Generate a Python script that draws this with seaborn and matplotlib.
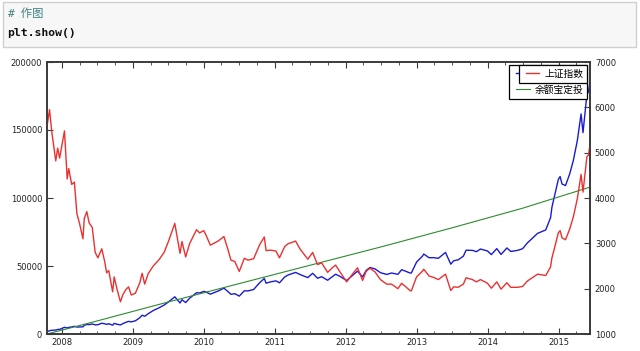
import pandas as pd
import matplotlib.pyplot as plt
import matplotlib.dates as mdates
from matplotlib.patches import Rectangle
from matplotlib.ticker import FuncFormatter
import seaborn as sns

plt.rcParams['font.family'] = ['DejaVu Sans', 'Noto Sans CJK SC']

# 日期（约半月一个点）
fechas = ['2007-10-16', '2007-10-29', '2007-11-10', '2007-11-30', '2007-12-10', '2007-12-20',
          '2008-01-14', '2008-01-28', '2008-02-05', '2008-02-20', '2008-03-05', '2008-03-18',
          '2008-03-31', '2008-04-18', '2008-04-25', '2008-05-08', '2008-05-20', '2008-06-05',
          '2008-06-20', '2008-07-04', '2008-07-24', '2008-08-08', '2008-08-18', '2008-08-29',
          '2008-09-18', '2008-09-26', '2008-10-10', '2008-10-28', '2008-11-10', '2008-11-25',
          '2008-12-09', '2008-12-23', '2009-01-13', '2009-02-04', '2009-02-17', '2009-03-02',
          '2009-03-20', '2009-04-15', '2009-05-15', '2009-06-10', '2009-07-03', '2009-07-28',
          '2009-08-04', '2009-08-31', '2009-09-10', '2009-09-29', '2009-10-20', '2009-11-24',
          '2009-12-10', '2009-12-31', '2010-01-12', '2010-02-03', '2010-03-15', '2010-04-14',
          '2010-05-05', '2010-05-20', '2010-06-09', '2010-07-02', '2010-07-28', '2010-08-16',
          '2010-09-14', '2010-10-15', '2010-11-08', '2010-11-17', '2010-12-10', '2011-01-07',
          '2011-01-25', '2011-02-21', '2011-03-10', '2011-04-18', '2011-05-10', '2011-06-20',
          '2011-07-15', '2011-08-09', '2011-08-30', '2011-09-30', '2011-10-24', '2011-11-10',
          '2011-12-01', '2011-12-29', '2012-01-06', '2012-02-10', '2012-03-02', '2012-03-28',
          '2012-04-15', '2012-05-05', '2012-05-31', '2012-06-28', '2012-07-30', '2012-08-24',
          '2012-09-26', '2012-10-15', '2012-11-27', '2012-12-04', '2012-12-31', '2013-01-31',
          '2013-02-06', '2013-03-05', '2013-03-28', '2013-04-22', '2013-05-29', '2013-06-25',
          '2013-07-10', '2013-08-02', '2013-08-29', '2013-09-12', '2013-10-15', '2013-11-04',
          '2013-11-25', '2013-12-31', '2014-01-20', '2014-02-17', '2014-03-11', '2014-04-10',
          '2014-04-30', '2014-06-05', '2014-06-30', '2014-07-25', '2014-08-15', '2014-09-15',
          '2014-10-27', '2014-11-21', '2014-11-28', '2014-12-09', '2014-12-31', '2015-01-09',
          '2015-01-19', '2015-02-06', '2015-02-27', '2015-03-18', '2015-04-08', '2015-04-27',
          '2015-05-07', '2015-05-27', '2015-06-04', '2015-06-12']

# 上证指数（右轴）
shangzheng = [5580, 5950, 5450, 4820, 5100, 4880,
              5480, 4420, 4650, 4300, 4350, 3650,
              3450, 3100, 3550, 3700, 3450, 3350,
              2800, 2680, 2880, 2600, 2350, 2400,
              1930, 2260, 2000, 1710, 1870, 1980,
              2040, 1860, 1900, 2120, 2340, 2100,
              2330, 2500, 2640, 2800, 3050, 3350,
              3440, 2780, 3040, 2700, 3000, 3300,
              3230, 3280, 3180, 2960, 3050, 3150,
              2860, 2630, 2600, 2380, 2670, 2630,
              2660, 2970, 3140, 2840, 2850, 2830,
              2680, 2930, 2990, 3050, 2880, 2650,
              2800, 2530, 2570, 2360, 2460, 2520,
              2380, 2200, 2150, 2350, 2460, 2180,
              2380, 2450, 2370, 2200, 2100, 2100,
              2000, 2120, 1960, 1950, 2260, 2390,
              2430, 2280, 2250, 2200, 2320, 1960,
              2040, 2030, 2100, 2240, 2200, 2150,
              2200, 2120, 2010, 2150, 1990, 2130,
              2030, 2030, 2050, 2170, 2230, 2320,
              2290, 2480, 2680, 2860, 3230, 3280,
              3120, 3080, 3310, 3580, 3990, 4520,
              4130, 4910, 4950, 5170]

# 定投上证的市值（左轴）
dingtou = [1700, 2380, 2730, 2880, 3320, 3420,
           4930, 4420, 4880, 5160, 5660, 5110,
           5180, 5270, 6390, 7030, 6900, 7370,
           6720, 6830, 7920, 7540, 7050, 7560,
           6470, 7800, 7200, 6670, 7670, 8610,
           9280, 8930, 9690, 11870, 13810, 13020,
           14910, 17250, 19270, 21280, 23640, 26470,
           27350, 22800, 25230, 23090, 26400, 30360,
           30200, 31320, 30850, 29300, 31570, 33700,
           31170, 29190, 29640, 27850, 31770, 31690,
           32720, 37720, 40820, 37350, 38330, 39050,
           37650, 41900, 43360, 45290, 43780, 41470,
           44660, 40990, 42150, 39530, 42070, 43970,
           42480, 40040, 39350, 43710, 46250, 41970,
           46650, 48880, 47870, 45100, 43790, 44840,
           43900, 47280, 44880, 44850, 52880, 57360,
           58810, 56090, 56140, 55660, 59970, 51350,
           53860, 54510, 57230, 61600, 61490, 60520,
           62480, 61060, 58390, 62780, 58510, 63260,
           60700, 61510, 62730, 67050, 69800, 74010,
           76490, 85560, 93260, 100100, 113700, 115780,
           110290, 109190, 117510, 127450, 142440, 161820,
           148060, 176270, 177950, 186120]

# 余额宝定投（左轴）
fechas_yeb = ['2007-10-16', '2008-06-30', '2009-06-30', '2010-06-30', '2011-06-30',
              '2012-06-30', '2013-06-30', '2014-06-30', '2015-06-12']
yuebao = [0, 9600, 23500, 37000, 50500, 64000, 78000, 92500, 108000]

df = pd.DataFrame({'fecha': pd.to_datetime(fechas), 'sz': shangzheng, 'dt': dingtou})
df_yeb = pd.DataFrame({'fecha': pd.to_datetime(fechas_yeb), 'yeb': yuebao})

fig = plt.figure(figsize=(6.4, 3.51), dpi=100)

# 上面的 notebook 代码格
fig.patches.append(Rectangle((3/640, 1-47/351), 633/640, 45/351, transform=fig.transFigure,
                             facecolor='#f7f7f7', edgecolor='#cfcfcf', lw=1))
fig.text(7/640, 1-14/351, '# 作图', color='#408080', style='italic', fontsize=8.2, va='center',
         family=['DejaVu Sans Mono', 'Noto Sans CJK SC'])
fig.text(7/640, 1-33/351, 'plt.show()', color='#111111', fontsize=8.2, va='center',
         weight='bold', family='DejaVu Sans Mono')

ax1 = fig.add_axes([47/640, 17/351, 543/640, 272/351])
ax2 = ax1.twinx()

sns.lineplot(x='fecha', y='dt', data=df, ax=ax1, color='#1a1ad6', lw=1.0, label='上证定投', estimator=None)
sns.lineplot(x='fecha', y='yeb', data=df_yeb, ax=ax1, color='#2e8b2e', lw=0.8, label='余额宝定投', estimator=None)
sns.lineplot(x='fecha', y='sz', data=df, ax=ax2, color='#ec3030', lw=1.0, label='上证指数', estimator=None)

ax1.set_xlim(df['fecha'].iloc[0], df['fecha'].iloc[-1])
ax1.set_ylim(0, 200000)
ax2.set_ylim(1000, 7000)
ax1.set_xlabel('')
ax1.set_ylabel('')
ax2.set_ylabel('')
ax1.set_yticks(range(0, 200001, 50000))
ax2.set_yticks(range(1000, 7001, 1000))
ax1.yaxis.set_major_formatter(FuncFormatter(lambda v, p: '%d' % v))

ax1.xaxis.set_major_locator(mdates.YearLocator())
ax1.xaxis.set_minor_locator(mdates.MonthLocator(bymonth=[4, 7, 10]))
ax1.xaxis.set_major_formatter(mdates.DateFormatter('%Y'))

for ax in (ax1, ax2):
    for s in ax.spines.values():
        s.set_color('#3a3a3a')
        s.set_linewidth(1.2)
ax1.tick_params(axis='x', which='both', direction='in', top=True, labelsize=6, colors='#3a3a3a',
                labelcolor='#222222', pad=3)
ax1.tick_params(axis='x', which='major', length=4)
ax1.tick_params(axis='x', which='minor', length=2)
ax1.tick_params(axis='y', direction='in', length=4, labelsize=6, colors='#3a3a3a', labelcolor='#222222')
ax2.tick_params(axis='y', direction='in', length=4, labelsize=6, colors='#3a3a3a', labelcolor='#222222')

# 两个图例叠在一起（右轴的盖住左轴的第一项）
leg_font = {'family': ['Noto Sans CJK SC', 'DejaVu Sans'], 'size': 7}
leg_kw = dict(loc='upper right', prop=leg_font, fancybox=False, framealpha=1, edgecolor='black',
              numpoints=2, handlelength=2.0, handletextpad=0.2, borderpad=0.4,
              labelspacing=0.6, borderaxespad=0.3)
l1 = ax1.legend(**leg_kw)
l1.get_frame().set_linewidth(0.9)
l2 = ax2.legend(**leg_kw)
l2.get_frame().set_linewidth(0.9)

plt.savefig('out.png', dpi=100)
